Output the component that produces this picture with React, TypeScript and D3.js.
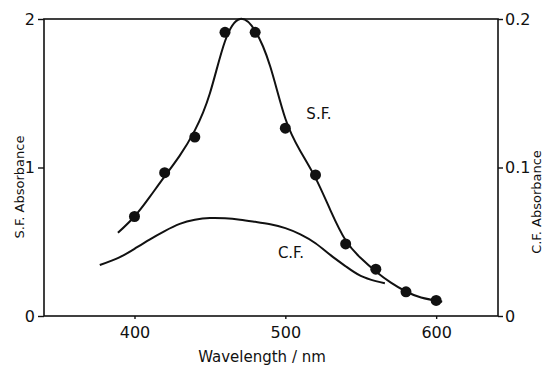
import React, { useEffect, useRef } from "react";
import * as d3 from "d3";

// S.F. measured points (nm, absorbance)
const sfPointWl = [400, 420, 440, 460, 480, 500, 520, 540, 560, 580, 600];
const sfPointAbs = [0.67, 0.965, 1.205, 1.91, 1.91, 1.265, 0.95, 0.485, 0.315, 0.163, 0.105];

// S.F. smooth curve
const sfCurveWl = [389, 400, 410, 420, 430, 440, 450, 460, 470, 480, 490, 500, 510, 520, 530, 540, 550, 560, 570, 580, 590, 604];
const sfCurveAbs = [0.56, 0.67, 0.8, 0.94, 1.08, 1.25, 1.5, 1.85, 2.0, 1.92, 1.68, 1.33, 1.11, 0.93, 0.71, 0.51, 0.39, 0.3, 0.225, 0.165, 0.125, 0.096];

// C.F. smooth curve (right axis)
const cfCurveWl = [377, 390, 400, 410, 420, 430, 440, 450, 460, 470, 480, 490, 500, 510, 520, 530, 540, 550, 560, 566];
const cfCurveAbs = [0.0343, 0.0395, 0.0452, 0.0515, 0.0572, 0.062, 0.0648, 0.066, 0.0658, 0.0648, 0.0634, 0.0618, 0.0592, 0.055, 0.049, 0.041, 0.0335, 0.027, 0.0235, 0.022];

const xTicks = [400, 500, 600];
const leftTicks = [0, 1, 2];
const rightTicks = [0, 0.1, 0.2];

const Chart = () => {
  const ref = useRef<SVGSVGElement>(null);

  useEffect(() => {
    const svg = d3.select(ref.current);
    svg.selectAll("*").remove();

    const left = 44, right = 498, top = 19, bottom = 316;
    const font = "'DejaVu Sans', sans-serif";

    const x = d3.scaleLinear().domain([340, 641]).range([left, right]);
    const yL = d3.scaleLinear().domain([0, 2]).range([bottom, top]);
    const yR = d3.scaleLinear().domain([0, 0.2]).range([bottom, top]);

    // frame
    svg
      .append("rect")
      .attr("x", left)
      .attr("y", top)
      .attr("width", right - left)
      .attr("height", bottom - top)
      .attr("fill", "none")
      .attr("stroke", "#111")
      .attr("stroke-width", 1.6);

    const gx = svg
      .append("g")
      .attr("transform", `translate(0,${bottom})`)
      .call(d3.axisBottom(x).tickValues(xTicks).tickSize(3).tickPadding(8).tickFormat(d3.format("d")));
    const gl = svg
      .append("g")
      .attr("transform", `translate(${left},0)`)
      .call(d3.axisLeft(yL).tickValues(leftTicks).tickSize(6).tickPadding(3).tickFormat(d3.format("d")));
    const gr = svg
      .append("g")
      .attr("transform", `translate(${right},0)`)
      .call(d3.axisRight(yR).tickValues(rightTicks).tickSize(5).tickPadding(2).tickFormat((d) => (d === 0 ? "0" : d3.format(".1f")(d as number))));

    [gx, gl, gr].forEach((g) => {
      g.select(".domain").remove();
      g.selectAll("line").attr("stroke", "#111").attr("stroke-width", 1.4);
      g.selectAll("text").attr("fill", "#111").style("font-family", font).style("font-size", "16px");
    });

    // curves
    const lineSF = d3
      .line<number>()
      .x((d, i) => x(sfCurveWl[i]))
      .y((d) => yL(d))
      .curve(d3.curveNatural);
    const lineCF = d3
      .line<number>()
      .x((d, i) => x(cfCurveWl[i]))
      .y((d) => yR(d))
      .curve(d3.curveNatural);

    svg.append("path").datum(sfCurveAbs).attr("d", lineSF).attr("fill", "none").attr("stroke", "#111").attr("stroke-width", 2);
    svg.append("path").datum(cfCurveAbs).attr("d", lineCF).attr("fill", "none").attr("stroke", "#111").attr("stroke-width", 2);

    svg
      .selectAll(".dot")
      .data(sfPointAbs)
      .enter()
      .append("circle")
      .attr("class", "dot")
      .attr("cx", (d, i) => x(sfPointWl[i]))
      .attr("cy", (d) => yL(d))
      .attr("r", 5.5)
      .attr("fill", "#111");

    // labels
    svg.append("text").attr("x", 319).attr("y", 119).attr("text-anchor", "middle").style("font-family", font).style("font-size", "15px").attr("fill", "#111").text("S.F.");
    svg.append("text").attr("x", 291).attr("y", 258).attr("text-anchor", "middle").style("font-family", font).style("font-size", "15px").attr("fill", "#111").text("C.F.");

    svg
      .append("text")
      .attr("x", 262)
      .attr("y", 362)
      .attr("text-anchor", "middle")
      .style("font-family", font)
      .style("font-size", "15px")
      .attr("fill", "#111")
      .text("Wavelength / nm");
    svg
      .append("text")
      .attr("transform", "translate(24,187) rotate(-90)")
      .attr("text-anchor", "middle")
      .style("font-family", font)
      .style("font-size", "13px")
      .attr("fill", "#111")
      .text("S.F. Absorbance");
    svg
      .append("text")
      .attr("transform", "translate(541,202) rotate(-90)")
      .attr("text-anchor", "middle")
      .style("font-family", font)
      .style("font-size", "13px")
      .attr("fill", "#111")
      .text("C.F. Absorbance");
  }, []);

  return <svg ref={ref} width={544} height={367} style={{ display: "block" }} />;
};

export default function App() {
  return (
    <div style={{ position: "fixed", left: 0, top: 0, background: "#fff" }}>
      <Chart />
    </div>
  );
}
